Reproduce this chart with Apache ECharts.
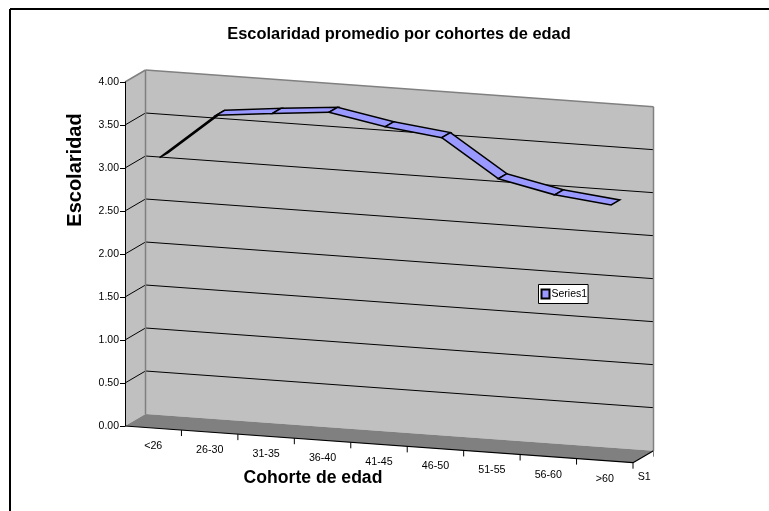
<!DOCTYPE html>
<html>
<head>
<meta charset="utf-8">
<style>
	html, body { margin: 0; padding: 0; background: #fff; }
	#chart { width: 769px; height: 511px; }
</style>
<script src="https://cdn.jsdelivr.net/npm/echarts@6/dist/echarts.min.js"></script>
</head>
<body>
<div id="chart"></div>
<script>
	var categories = ['<26', '26-30', '31-35', '36-40', '41-45', '46-50', '51-55', '56-60', '>60'];
	var escolaridad = [3.10, 3.64, 3.71, 3.77, 3.65, 3.57, 3.14, 3.00, 2.93];
	var yTicks = [0, 0.5, 1, 1.5, 2, 2.5, 3, 3.5, 4];
	var seriesLabel = 'S1';

	var FONT = '"Liberation Sans", Arial, sans-serif';
	// perspectiva del grafico 3D: cada punto se corre segun x y segun profundidad
	var SLOPE = 0.0722;
	var DEPTH_X = 20.5;
	var DEPTH_Y = 12;
	var RIBBON_FRONT = 0.31;
	var RIBBON_BACK = 0.73;

	function proj(api, x, y, depth) {
		var p = api.coord([x, y]);
		var x0 = api.coord([0, 0])[0];
		return [p[0] + depth * DEPTH_X, p[1] + (p[0] - x0) * SLOPE - depth * DEPTH_Y];
	}

	function poly(points, fill, stroke, width) {
		return {
			type: 'polygon',
			shape: { points: points },
			style: { fill: fill, stroke: stroke || null, lineWidth: width || 0 }
		};
	}

	function line(a, b, color, width) {
		return {
			type: 'line',
			shape: { x1: a[0], y1: a[1], x2: b[0], y2: b[1] },
			style: { stroke: color, lineWidth: width, fill: null }
		};
	}

	function label(text, x, y) {
		return {
			type: 'text',
			style: {
				text: text, x: x, y: y, fill: '#000', font: '10.7px ' + FONT,
				align: 'center', verticalAlign: 'middle'
			}
		};
	}

	// paredes, piso, lineas de division y eje de categorias
	function renderBox(params, api) {
		var n = categories.length;
		var top = yTicks[yTicks.length - 1];
		var children = [];
		// pared lateral
		children.push(poly([proj(api, 0, 0, 0), proj(api, 0, 0, 1), proj(api, 0, top, 1), proj(api, 0, top, 0)], '#c0c0c0'));
		// pared del fondo
		children.push(poly([proj(api, 0, 0, 1), proj(api, n, 0, 1), proj(api, n, top, 1), proj(api, 0, top, 1)], '#c0c0c0'));
		// piso
		children.push(poly([proj(api, 0, 0, 0), proj(api, n, 0, 0), proj(api, n, 0, 1), proj(api, 0, 0, 1)], '#808080'));
		// lineas de division
		yTicks.forEach(function (v) {
			if (v > 0 && v < top) {
				children.push(line(proj(api, 0, v, 0), proj(api, 0, v, 1), '#000', 1));
				children.push(line(proj(api, 0, v, 1), proj(api, n, v, 1), '#000', 1));
			}
		});
		// bordes grises
		children.push(line(proj(api, 0, top, 0), proj(api, 0, top, 1), '#808080', 1.5));
		children.push(line(proj(api, 0, top, 1), proj(api, n, top, 1), '#808080', 1.5));
		children.push(line(proj(api, 0, 0, 1), proj(api, 0, top, 1), '#808080', 1.5));
		children.push(line(proj(api, n, 0, 1), proj(api, n, top, 1), '#808080', 1.5));
		// eje x y eje de series
		children.push(line(proj(api, 0, 0, 0), proj(api, n, 0, 0), '#000', 1.2));
		children.push(line(proj(api, n, 0, 0), proj(api, n, 0, 1), '#000', 1.2));
		for (var i = 1; i <= n; i++) {
			var t = proj(api, i, 0, 0);
			children.push(line(t, [t[0], t[1] + 6], '#000', 1));
		}
		var s = proj(api, n, 0, 1);
		children.push(line(s, [s[0], s[1] + 6], '#808080', 1));
		categories.forEach(function (c, idx) {
			var p = proj(api, idx + 0.5, 0, 0);
			children.push(label(c, p[0], p[1] + 18));
		});
		var m = proj(api, n, 0, 0.5);
		children.push(label(seriesLabel, m[0] + 1, m[1] + 20));
		return { type: 'group', children: children };
	}

	// cada segmento de la cinta
	function renderRibbon(params, api) {
		var i = params.dataIndex;
		if (i >= escolaridad.length - 1) {
			return { type: 'group', children: [] };
		}
		var x1 = i + 0.5, x2 = i + 1.5;
		var y1 = escolaridad[i], y2 = escolaridad[i + 1];
		return poly([
			proj(api, x1, y1, RIBBON_FRONT),
			proj(api, x2, y2, RIBBON_FRONT),
			proj(api, x2, y2, RIBBON_BACK),
			proj(api, x1, y1, RIBBON_BACK)
		], '#9999ff', '#000', 1.5);
	}

	var chart = echarts.init(document.getElementById('chart'));
	chart.setOption({
		animation: false,
		backgroundColor: '#fff',
		title: {
			text: 'Escolaridad promedio por cohortes de edad',
			left: 394,
			top: 21,
			textAlign: 'center',
			textStyle: { fontFamily: FONT, fontSize: 16.4, fontWeight: 'bold', color: '#000' }
		},
		legend: {
			data: ['Series1'],
			left: 538.5,
			top: 284.5,
			padding: [4, 1, 4, 2],
			itemWidth: 8,
			itemHeight: 9,
			itemGap: 0,
			backgroundColor: '#fff',
			borderColor: '#000',
			borderWidth: 1,
			borderRadius: 0,
			icon: 'rect',
			textStyle: { fontFamily: FONT, fontSize: 10.5, color: '#000', padding: [0, 0, 0, -3] }
		},
		grid: { left: 125, right: 136, top: 82, bottom: 85 },
		xAxis: {
			type: 'value',
			min: 0,
			max: categories.length,
			show: false
		},
		yAxis: {
			type: 'value',
			z: 5,
			min: yTicks[0],
			max: yTicks[yTicks.length - 1],
			interval: 0.5,
			splitLine: { show: false },
			axisLine: { show: true, onZero: false, lineStyle: { color: '#000', width: 1 } },
			axisTick: { show: true, length: 5, lineStyle: { color: '#000', width: 1 } },
			axisLabel: {
				fontFamily: FONT, fontSize: 10.5, color: '#000', margin: 6,
				formatter: function (v) { return v.toFixed(2); }
			}
		},
		graphic: [
			{ type: 'line', shape: { x1: 10, y1: 9, x2: 769, y2: 9 }, style: { stroke: '#000', lineWidth: 2 } },
			{ type: 'line', shape: { x1: 10, y1: 9, x2: 10, y2: 511 }, style: { stroke: '#000', lineWidth: 2 } },
			{
				type: 'text', x: 75, y: 170, rotation: Math.PI / 2,
				style: { text: 'Escolaridad', font: 'bold 20px ' + FONT, fill: '#000', align: 'center', verticalAlign: 'middle' }
			},
			{
				type: 'text', x: 313, y: 478,
				style: { text: 'Cohorte de edad', font: 'bold 17.6px ' + FONT, fill: '#000', align: 'center', verticalAlign: 'middle' }
			}
		],
		series: [
			{
				name: 'box',
				type: 'custom',
				coordinateSystem: 'cartesian2d',
				clip: false,
				silent: true,
				z: 1,
				renderItem: renderBox,
				data: [[0, 0]]
			},
			{
				name: 'Series1',
				type: 'custom',
				coordinateSystem: 'cartesian2d',
				clip: false,
				z: 2,
				itemStyle: { color: '#9999ff', borderColor: '#000', borderWidth: 1 },
				renderItem: renderRibbon,
				encode: { x: 0, y: 1 },
				data: escolaridad.map(function (v, i) { return [i + 0.5, v]; })
			}
		]
	});
</script>
</body>
</html>
